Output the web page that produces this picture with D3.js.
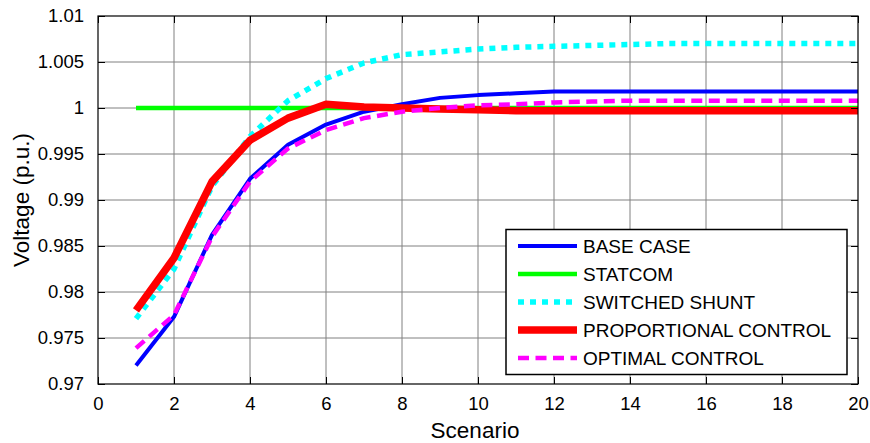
<!DOCTYPE html>
<html><head><meta charset="utf-8">
<script src="https://cdn.jsdelivr.net/npm/d3@7"></script>
<style>
html,body{margin:0;padding:0;background:#fff;}
svg{display:block;font-family:Arial,"Liberation Sans",sans-serif;}
</style></head>
<body><svg id="chart" width="870" height="443"></svg>
<script>
const scenarios = d3.range(1, 21);
const baseCase = [0.9720,0.9773,0.9862,0.9923,0.9960,0.9982,0.9996,1.0004,1.0011,1.0014,1.0016,1.0018,1.0018,1.0018,1.0018,1.0018,1.0018,1.0018,1.0018,1.0018];
const statcom = [1,1,1,1,1,1,1,1,1,1,1,1,1,1,1,1,1,1,1,1];
const switchedShunt = [0.9771,0.9825,0.9915,0.9969,1.0008,1.0032,1.0049,1.0058,1.0061,1.0064,1.0066,1.0067,1.0068,1.0069,1.0070,1.0070,1.0070,1.0070,1.0070,1.0070];
const proportional = [0.9780,0.9837,0.9920,0.9965,0.9989,1.0004,1.0001,1.0000,0.9999,0.9998,0.9997,0.9997,0.9997,0.9997,0.9997,0.9997,0.9997,0.9997,0.9997,0.9997];
const optimal = [0.9739,0.9775,0.9860,0.9920,0.9956,0.9976,0.9989,0.9996,1.0000,1.0003,1.0004,1.0006,1.0007,1.0008,1.0008,1.0008,1.0008,1.0008,1.0008,1.0008];
const seriesNames = ["BASE CASE","STATCOM","SWITCHED SHUNT","PROPORTIONAL CONTROL","OPTIMAL CONTROL"];
const xTicks = d3.range(0, 21, 2);
const yTicks = [0.97,0.975,0.98,0.985,0.99,0.995,1,1.005,1.01];
const yTickLabels = ["0.97","0.975","0.98","0.985","0.99","0.995","1","1.005","1.01"];

const styles = [
  {color:"#0000ff", width:4, dash:null},
  {color:"#00ff00", width:4.5, dash:null},
  {color:"#00ffff", width:5.5, dash:"6,6"},
  {color:"#ff0000", width:7.5, dash:null},
  {color:"#ff00ff", width:4.5, dash:"11,6.5"}
];
const seriesData = [baseCase, statcom, switchedShunt, proportional, optimal];

const svg = d3.select("#chart");
const L = 98, R = 858, T = 16, B = 384;
const x = d3.scaleLinear().domain([0,20]).range([L,R]);
const y = d3.scaleLinear().domain([0.97,1.01]).range([B,T]);

// grid
const g = svg.append("g");
g.selectAll(".vg").data(xTicks.slice(1,-1)).enter().append("line")
  .attr("x1",d=>x(d)).attr("x2",d=>x(d)).attr("y1",T).attr("y2",B)
  .attr("stroke","#808080").attr("stroke-width",1);
g.selectAll(".hg").data(yTicks.slice(1,-1)).enter().append("line")
  .attr("y1",d=>y(d)).attr("y2",d=>y(d)).attr("x1",L).attr("x2",R)
  .attr("stroke","#808080").attr("stroke-width",1);

// axes
const tickLen = 7;
const xAxisB = d3.axisBottom(x).tickValues(xTicks).tickSize(-tickLen).tickPadding(tickLen+6).tickFormat(d3.format("d"));
const xAxisT = d3.axisTop(x).tickValues(xTicks).tickSize(-tickLen).tickFormat("");
const yAxisL = d3.axisLeft(y).tickValues(yTicks).tickSize(-tickLen).tickPadding(tickLen+7).tickFormat((d,i)=>yTickLabels[i]);
const yAxisR = d3.axisRight(y).tickValues(yTicks).tickSize(-tickLen).tickFormat("");

function styleAxis(sel){
  sel.select(".domain").remove();
  sel.selectAll(".tick line").attr("stroke","#000").attr("stroke-width",1);
  sel.selectAll("text").attr("fill","#000").attr("font-size","18.5px").attr("font-family","Arial,'Liberation Sans',sans-serif");
}

// lines
const line = d3.line().x((d,i)=>x(scenarios[i])).y(d=>y(d));
seriesData.forEach((s,k)=>{
  const st = styles[k];
  svg.append("path").datum(s).attr("d",line)
    .attr("fill","none").attr("stroke",st.color).attr("stroke-width",st.width)
    .attr("stroke-dasharray",st.dash).attr("stroke-linejoin","round");
});

svg.append("g").attr("transform",`translate(0,${B})`).call(xAxisB).call(styleAxis);
svg.append("g").attr("transform",`translate(0,${T})`).call(xAxisT).call(styleAxis);
svg.append("g").attr("transform",`translate(${L},0)`).call(yAxisL).call(styleAxis);
svg.append("g").attr("transform",`translate(${R},0)`).call(yAxisR).call(styleAxis);

svg.append("rect").attr("x",L).attr("y",T).attr("width",R-L).attr("height",B-T)
  .attr("fill","none").attr("stroke","#000").attr("stroke-width",1.2);

// axis labels
svg.append("text").attr("x",(L+R)/2-3).attr("y",438).attr("text-anchor","middle")
  .attr("font-size","22.5px").attr("fill","#000").text("Scenario");
svg.append("text").attr("transform",`translate(29,${(T+B)/2}) rotate(-90)`).attr("text-anchor","middle")
  .attr("font-size","22.5px").attr("fill","#000").text("Voltage (p.u.)");

// legend
const lg = svg.append("g");
lg.append("rect").attr("x",506).attr("y",229.5).attr("width",341).attr("height",145)
  .attr("fill","#fff").attr("stroke","#000").attr("stroke-width",1.5);
seriesNames.forEach((n,k)=>{
  const yy = 246 + k*28;
  const st = styles[k];
  lg.append("line").attr("x1",518).attr("x2",577).attr("y1",yy).attr("y2",yy)
    .attr("stroke",st.color).attr("stroke-width",st.width).attr("stroke-dasharray",st.dash);
  lg.append("text").attr("x",583).attr("y",yy+7).attr("font-size","19px").attr("fill","#000").text(n);
});
</script></body></html>
